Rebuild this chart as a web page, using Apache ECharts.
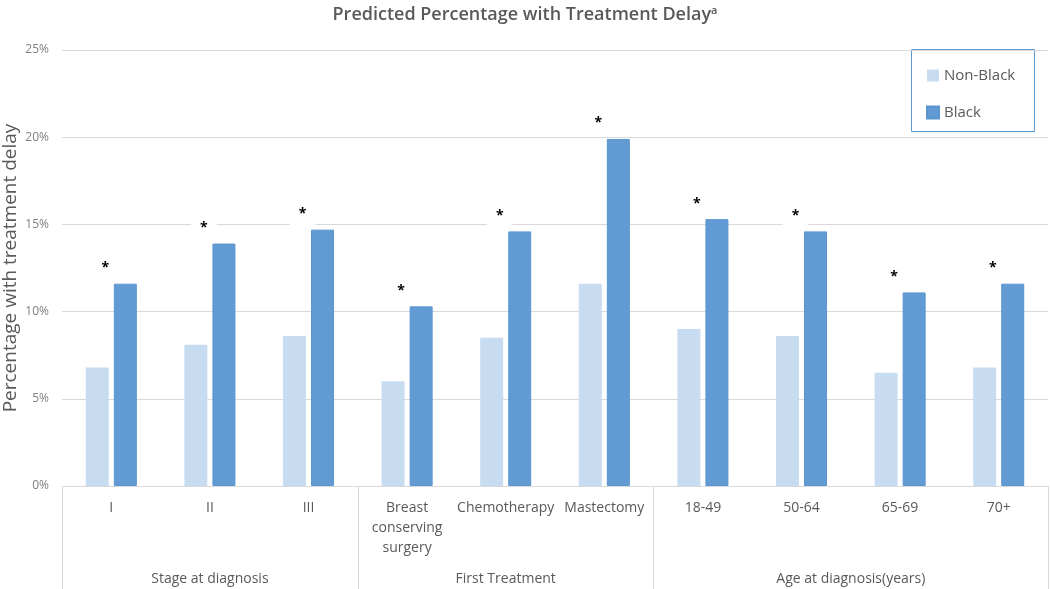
<!DOCTYPE html>
<html>
<head>
<meta charset="utf-8">
<script src="https://cdn.jsdelivr.net/npm/echarts@6/dist/echarts.min.js"></script>
<style>
html,body{margin:0;padding:0;background:#fff;}
#chart{width:1050px;height:589px;}
</style>
</head>
<body>
<div id="chart"></div>
<script>
const categories = ['I', 'II', 'III', 'Breast\nconserving\nsurgery', 'Chemotherapy', 'Mastectomy', '18-49', '50-64', '65-69', '70+'];
const groups = ['Stage at diagnosis', 'First Treatment', 'Age at diagnosis(years)'];
const groupSizes = [3, 3, 4];
const nonBlack = [6.8, 8.1, 8.6, 6.0, 8.5, 11.6, 9.0, 8.6, 6.5, 6.8];
const black = [11.6, 13.9, 14.7, 10.3, 14.6, 19.9, 15.3, 14.6, 11.1, 11.6];
const yTicks = [0, 5, 10, 15, 20, 25];

// group boundaries & centers in category units
const groupBounds = [0];
groupSizes.forEach(s => groupBounds.push(groupBounds[groupBounds.length - 1] + s));
const groupCenters = groupSizes.map((s, i) => groupBounds[i] + s / 2);

const FONT = '"Open Sans", "Noto Sans", sans-serif';
const chart = echarts.init(document.getElementById('chart'), null, {renderer: 'canvas'});
chart.setOption({
  animation: false,
  backgroundColor: '#fff',
  title: {
    text: 'Predicted Percentage with Treatment Delay{sup|a}',
    left: 'center',
    top: 0,
    textStyle: {
      fontFamily: FONT, fontSize: 18, fontWeight: 600, color: '#595959',
      rich: { sup: { fontFamily: FONT, fontSize: 11, fontWeight: 600, color: '#595959', verticalAlign: 'top', padding: [0, 0, 9, 0] } }
    }
  },
  legend: {
    orient: 'vertical',
    left: 921, top: 63,
    itemWidth: 12, itemHeight: 12, itemGap: 22,
    icon: 'rect',
    data: ['Non-Black', 'Black'],
    textStyle: { fontFamily: FONT, fontSize: 15, color: '#595959' }
  },
  graphic: [{
    type: 'rect', left: 909, top: 47,
    shape: { width: 123, height: 82 },
    style: { fill: 'none', stroke: '#5b9bd5', lineWidth: 1 }
  }],
  grid: { left: 62, right: 2, top: 50, bottom: 103, containLabel: false, outerBoundsMode: 'none' },
  xAxis: [{
    type: 'category',
    data: categories,
    axisLine: { show: true, lineStyle: { color: '#d9d9d9', width: 1 } },
    axisTick: { show: false },
    axisLabel: { interval: 0, margin: 12, fontFamily: FONT, fontSize: 14, color: '#595959', lineHeight: 20 }
  }, {
    type: 'value',
    position: 'bottom',
    min: 0, max: groupBounds[groupBounds.length - 1],
    axisLine: { show: false },
    splitLine: { show: false },
    axisTick: { show: true, length: 103, customValues: groupBounds, lineStyle: { color: '#d9d9d9', width: 1 } },
    axisLabel: {
      customValues: groupCenters, margin: 86, fontFamily: FONT, fontSize: 14, color: '#595959',
      formatter: v => groups[groupCenters.indexOf(v)] || ''
    }
  }],
  yAxis: {
    type: 'value',
    min: yTicks[0], max: yTicks[yTicks.length - 1], interval: 5,
    name: 'Percentage with treatment delay',
    nameLocation: 'middle',
    nameGap: 42,
    nameMoveOverlap: false,
    nameTextStyle: { fontFamily: FONT, fontSize: 19, color: '#595959' },
    axisLine: { show: false },
    axisTick: { show: false },
    splitLine: { lineStyle: { color: '#d9d9d9', width: 1 } },
    axisLabel: { formatter: '{value}%', margin: 13, fontFamily: FONT, fontSize: 12, color: '#7f7f7f' }
  },
  series: [{
    name: 'Non-Black', type: 'bar', xAxisIndex: 0,
    data: nonBlack, barWidth: 23, barGap: '22%',
    itemStyle: { color: '#c8dcf1' }
  }, {
    name: 'Black', type: 'bar', xAxisIndex: 0,
    data: black, barWidth: 23,
    itemStyle: { color: '#629bd4', borderColor: '#5a95d0', borderWidth: 1 },
    label: {
      show: true, position: 'top', formatter: '*', distance: 0,
      offset: [-20, -4],
      fontFamily: FONT, fontSize: 14, fontWeight: 'bold', color: '#000',
      backgroundColor: '#fff', padding: [5, 9, 4, 9], lineHeight: 15
    }
  }]
});
</script>
</body>
</html>
